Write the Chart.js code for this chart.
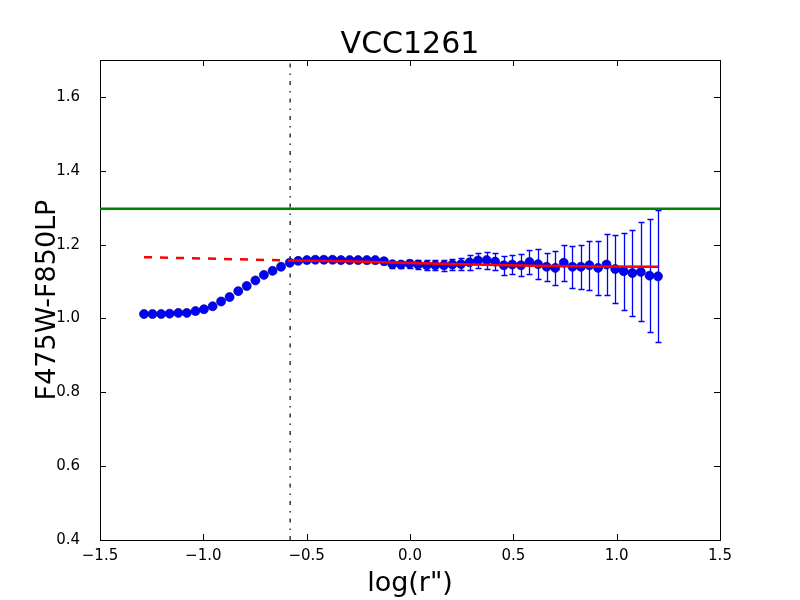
<!DOCTYPE html>
<html>
<head>
<meta charset="utf-8">
<script src="https://cdn.jsdelivr.net/npm/chart.js@4.4.1/dist/chart.umd.min.js"></script>
<style>
  html, body { margin: 0; padding: 0; background: #ffffff; }
  #wrap { width: 800px; height: 600px; }
</style>
</head>
<body>
<div id="wrap"><canvas id="profile" width="800" height="600"></canvas></div>
<script>
"use strict";

// radial colour profile
const logR = [
  -1.287, -1.246, -1.204, -1.163, -1.121, -1.080, -1.038, -0.997, -0.955, -0.914,
  -0.873, -0.831, -0.790, -0.748, -0.707, -0.665, -0.624, -0.582, -0.541, -0.499,
  -0.458, -0.417, -0.375, -0.334, -0.292, -0.251, -0.209, -0.168, -0.126, -0.085,
  -0.044, -0.002, 0.039, 0.081, 0.122, 0.164, 0.205, 0.247, 0.288, 0.329,
  0.371, 0.412, 0.454, 0.495, 0.537, 0.578, 0.620, 0.661, 0.703, 0.744,
  0.786, 0.827, 0.868, 0.910, 0.951, 0.993, 1.034, 1.076, 1.117, 1.159,
  1.200
];
const color = [
  1.012, 1.012, 1.012, 1.013, 1.015, 1.015, 1.020, 1.025, 1.033, 1.046,
  1.058, 1.074, 1.088, 1.103, 1.118, 1.129, 1.140, 1.151, 1.156, 1.158,
  1.159, 1.159, 1.159, 1.158, 1.158, 1.158, 1.158, 1.158, 1.155, 1.147,
  1.146, 1.148, 1.146, 1.144, 1.144, 1.144, 1.146, 1.147, 1.152, 1.157,
  1.158, 1.154, 1.144, 1.146, 1.144, 1.153, 1.147, 1.140, 1.137, 1.151,
  1.140, 1.140, 1.144, 1.137, 1.146, 1.134, 1.128, 1.123, 1.126, 1.116,
  1.114
];
const colorErr = [
  0.002, 0.002, 0.002, 0.002, 0.002, 0.002, 0.002, 0.002, 0.002, 0.003,
  0.003, 0.003, 0.003, 0.003, 0.003, 0.003, 0.003, 0.003, 0.004, 0.004,
  0.004, 0.005, 0.005, 0.005, 0.006, 0.006, 0.007, 0.007, 0.008, 0.009,
  0.010, 0.011, 0.012, 0.013, 0.014, 0.015, 0.016, 0.016, 0.020, 0.020,
  0.023, 0.022, 0.025, 0.025, 0.030, 0.033, 0.040, 0.038, 0.046, 0.049,
  0.057, 0.060, 0.067, 0.074, 0.083, 0.092, 0.104, 0.116, 0.134, 0.153,
  0.179
];

// fitted profile: extrapolated inner part (dashed) and fitted outer part
const fitInnerX = [-1.287, -0.58];
const fitInnerY = [1.166, 1.157];
const fitOuterX = [-0.58, -0.3, 0.0, 0.3, 0.6, 0.9, 1.2];
const fitOuterY = [1.157, 1.155, 1.150, 1.146, 1.143, 1.141, 1.140];

const greenLevel = 1.297;
const cutRadius = -0.58;

const xTicks = [-1.5, -1.0, -0.5, 0.0, 0.5, 1.0, 1.5];
const yTicks = [0.4, 0.6, 0.8, 1.0, 1.2, 1.4, 1.6];

const toPts = (xs, ys) => xs.map((x, i) => ({ x: x, y: ys[i] }));
const fmt = v => (v < 0 ? "\u2212" : "") + Math.abs(v).toFixed(1);

// error bars + inward tick marks (matplotlib look)
const extras = {
  id: "extras",
  beforeDatasetsDraw(chart) {
    const { ctx, chartArea } = chart;
    const xs = chart.scales.x, ys = chart.scales.y;
    ctx.save();
    ctx.beginPath();
    ctx.rect(chartArea.left, chartArea.top, chartArea.right - chartArea.left, chartArea.bottom - chartArea.top);
    ctx.clip();
    ctx.strokeStyle = "#0000ff";
    ctx.lineWidth = 1.3;
    for (let i = 0; i < logR.length; i++) {
      const px = Math.round(xs.getPixelForValue(logR[i])) + 0.5;
      const top = Math.round(ys.getPixelForValue(color[i] + colorErr[i])) + 0.5;
      const bot = Math.round(ys.getPixelForValue(color[i] - colorErr[i])) + 0.5;
      ctx.beginPath();
      ctx.moveTo(px, top); ctx.lineTo(px, bot);
      ctx.moveTo(px - 3, top); ctx.lineTo(px + 3, top);
      ctx.moveTo(px - 3, bot); ctx.lineTo(px + 3, bot);
      ctx.stroke();
    }
    ctx.restore();
  },
  afterDraw(chart) {
    const { ctx, chartArea } = chart;
    const xs = chart.scales.x, ys = chart.scales.y;
    const len = 6;
    ctx.save();
    ctx.strokeStyle = "#000000";
    ctx.lineWidth = 1;
    ctx.beginPath();
    xTicks.forEach(v => {
      const px = Math.round(xs.getPixelForValue(v)) + 0.5;
      ctx.moveTo(px, chartArea.bottom); ctx.lineTo(px, chartArea.bottom - len);
      ctx.moveTo(px, chartArea.top); ctx.lineTo(px, chartArea.top + len);
    });
    yTicks.forEach(v => {
      const py = Math.round(ys.getPixelForValue(v)) + 0.5;
      ctx.moveTo(chartArea.left, py); ctx.lineTo(chartArea.left + len, py);
      ctx.moveTo(chartArea.right, py); ctx.lineTo(chartArea.right - len, py);
    });
    ctx.stroke();
    ctx.restore();
  }
};

Chart.defaults.font.family = "'DejaVu Sans', sans-serif";
Chart.defaults.color = "#000000";

new Chart(document.getElementById("profile"), {
  type: "scatter",
  data: {
    datasets: [
      {
        type: "line",
        data: toPts(fitOuterX, fitOuterY),
        borderColor: "#ff0000",
        borderWidth: 2.5,
        pointRadius: 0,
        fill: false,
        order: 0
      },
      {
        type: "line",
        data: toPts(fitInnerX, fitInnerY),
        borderColor: "#ff0000",
        borderWidth: 2.5,
        borderDash: [8, 8],
        pointRadius: 0,
        fill: false,
        order: 0
      },
      {
        data: toPts(logR, color),
        backgroundColor: "#0000ff",
        borderColor: "#00008b",
        borderWidth: 0.7,
        pointRadius: 4.5,
        order: 1
      },
      {
        type: "line",
        data: [{ x: -1.5, y: greenLevel }, { x: 1.5, y: greenLevel }],
        borderColor: "#008000",
        borderWidth: 2.5,
        pointRadius: 0,
        fill: false,
        order: 2
      },
      {
        type: "line",
        data: [{ x: cutRadius, y: 0.4 }, { x: cutRadius, y: 1.7 }],
        borderColor: "#000000",
        borderWidth: 1.2,
        borderDash: [4, 6, 1.5, 6],
        pointRadius: 0,
        fill: false,
        order: 3
      }
    ]
  },
  options: {
    responsive: false,
    animation: false,
    events: [],
    layout: { padding: 0 },
    plugins: {
      legend: { display: false },
      tooltip: { enabled: false },
      title: {
        display: true,
        fullSize: false,
        text: "VCC1261",
        font: { size: 30, weight: "normal", lineHeight: 1 },
        padding: { top: 30, bottom: 0 }
      }
    },
    scales: {
      x: {
        type: "linear",
        position: "bottom",
        min: -1.5, max: 1.5,
        afterBuildTicks: s => { s.ticks = xTicks.map(v => ({ value: v })); },
        afterFit: s => { s.height = 60; },
        grid: { display: false, drawTicks: false },
        border: { display: true, color: "#000000", width: 1 },
        ticks: { font: { size: 15 }, padding: 7, maxRotation: 0, callback: v => fmt(v) },
        title: {
          display: true,
          text: "log(r\")",
          font: { size: 27, lineHeight: 1 },
          padding: { top: 0, bottom: 3 }
        }
      },
      y: {
        type: "linear",
        position: "left",
        min: 0.4, max: 1.7,
        afterBuildTicks: s => { s.ticks = yTicks.map(v => ({ value: v })); },
        afterFit: s => { s.width = 100; },
        grid: { display: false, drawTicks: false },
        border: { display: true, color: "#000000", width: 1 },
        ticks: { font: { size: 15 }, padding: 20, callback: v => fmt(v) },
        title: {
          display: true,
          text: "F475W-F850LP",
          font: { size: 27, lineHeight: 1 },
          padding: { top: 34, bottom: 0 }
        }
      },
      x2: {
        type: "linear",
        position: "top",
        min: -1.5, max: 1.5,
        afterFit: s => { s.height = 0; },
        grid: { display: false, drawTicks: false },
        border: { display: true, color: "#000000", width: 1 },
        ticks: { display: false }
      },
      y2: {
        type: "linear",
        position: "right",
        min: 0.4, max: 1.7,
        afterFit: s => { s.width = 80; },
        grid: { display: false, drawTicks: false },
        border: { display: true, color: "#000000", width: 1 },
        ticks: { display: false }
      }
    }
  },
  plugins: [extras]
});
</script>
</body>
</html>
